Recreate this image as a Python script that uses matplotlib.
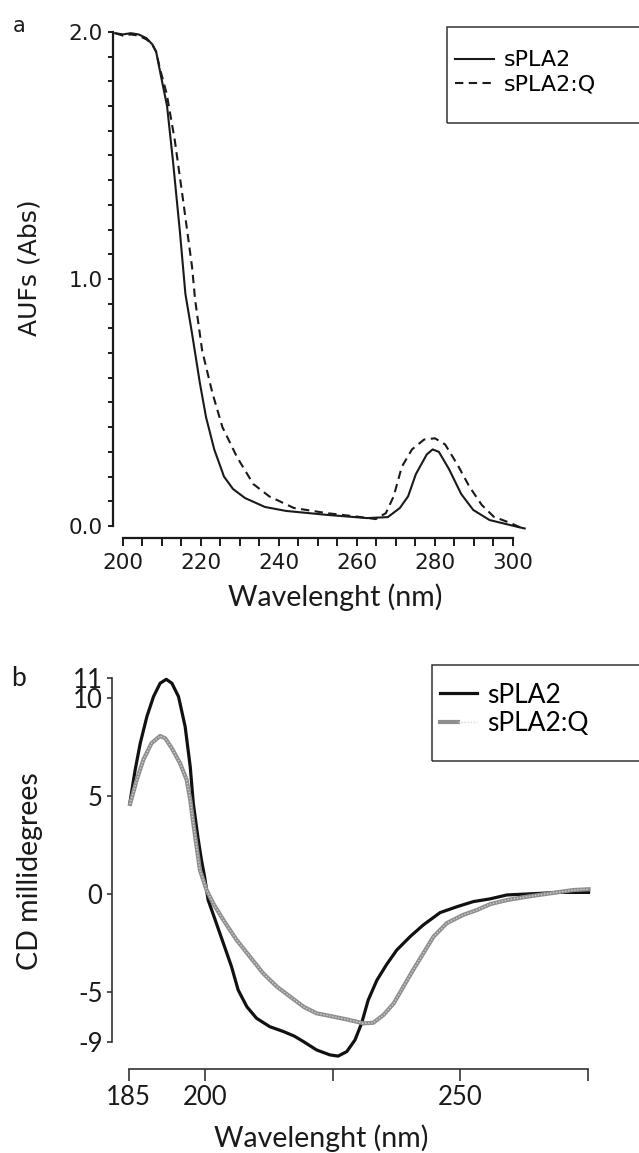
import numpy as np
import matplotlib
matplotlib.use("Agg")
import matplotlib.pyplot as plt
from matplotlib.patches import Rectangle
from matplotlib.ticker import MultipleLocator, FixedLocator, FixedFormatter, FormatStrFormatter
from matplotlib.legend_handler import HandlerTuple

# ---------------------------------------------------------------------------
# Data
# ---------------------------------------------------------------------------

# (a) UV absorbance
uv_wl_spla2 = [198, 200, 202, 204, 206, 207.5, 208.5, 209.5, 211.3, 212.8, 214.6, 216.0,
               217.7, 219.7, 221.3, 223.4, 225.9, 228.2, 231.3, 236.4, 241.8, 252.3,
               262.6, 267.9, 271.0, 273.1, 275.1, 277.9, 279.4, 281.0, 283.6, 286.7,
               289.8, 294.0, 298.2, 301.3, 303.0]
uv_abs_spla2 = [1.995, 1.99, 1.995, 1.99, 1.975, 1.95, 1.92, 1.84, 1.70, 1.48, 1.19, 0.94,
                0.78, 0.58, 0.44, 0.31, 0.20, 0.15, 0.113, 0.077, 0.061, 0.045,
                0.032, 0.036, 0.073, 0.12, 0.21, 0.29, 0.31, 0.30, 0.23, 0.13,
                0.065, 0.024, 0.008, -0.004, -0.01]

uv_wl_q = [198, 200, 202, 204, 206, 207.5, 208.5, 209.5, 211.2, 213.3, 215.4, 217.7,
           218.5, 220.3, 222.9, 225.5, 229.2, 233.4, 237.5, 243.8, 252.3, 260.5,
           264.8, 267.4, 269.4, 271.5, 274.1, 277.2, 280.0, 282.6, 285.7, 288.8,
           292.0, 295.1, 299.2, 302.8]
uv_abs_q = [1.995, 1.985, 1.99, 1.985, 1.97, 1.95, 1.92, 1.85, 1.75, 1.56, 1.32, 1.05,
            0.915, 0.71, 0.54, 0.40, 0.28, 0.17, 0.12, 0.073, 0.052, 0.037,
            0.028, 0.052, 0.12, 0.24, 0.31, 0.35, 0.355, 0.33, 0.25, 0.16,
            0.085, 0.037, 0.013, -0.012]

# (b) circular dichroism
cd_wl_spla2 = [185.3, 186.3, 187.3, 188.6, 189.9, 191.2, 192.4, 193.5, 194.8, 196.1,
               197.1, 197.7, 198.6, 199.3, 199.9, 200.6, 202.0, 203.6, 205.2, 206.5,
               208.2, 210.1, 212.7, 215.4, 217.5, 219.3, 221.9, 224.5, 226.1, 227.8,
               229.4, 230.7, 232.0, 233.7, 235.6, 237.6, 240.2, 242.8, 246.1, 249.4,
               252.6, 255.9, 259.2, 265.7, 269.0, 275.2]
cd_mdeg_spla2 = [4.70, 6.33, 7.69, 9.05, 10.07, 10.75, 10.95, 10.75, 10.07, 8.54,
                 6.49, 4.62, 2.90, 1.73, 0.90, -0.30, -1.33, -2.52, -3.71, -4.90,
                 -5.75, -6.34, -6.77, -7.02, -7.25, -7.53, -7.96, -8.21, -8.27, -8.04,
                 -7.45, -6.60, -5.41, -4.40, -3.60, -2.86, -2.18, -1.58, -0.95, -0.65,
                 -0.39, -0.25, -0.05, 0.03, 0.08, 0.08]

cd_wl_q = [185.3, 186.6, 187.9, 189.5, 191.2, 192.2, 193.5, 195.1, 196.4, 197.1,
           197.7, 199.0, 200.3, 201.6, 203.6, 206.2, 208.8, 211.4, 214.1, 216.7,
           219.3, 221.9, 225.2, 227.8, 231.1, 233.0, 235.0, 237.0, 238.9, 240.8,
           242.8, 244.8, 247.4, 250.6, 253.3, 255.9, 259.2, 263.1, 267.6, 272.2, 275.2]
cd_mdeg_q = [4.59, 5.82, 6.84, 7.69, 8.06, 7.94, 7.43, 6.67, 5.82, 4.80,
             3.60, 1.22, 0.20, -0.48, -1.33, -2.35, -3.20, -4.05, -4.73, -5.24,
             -5.75, -6.09, -6.26, -6.40, -6.60, -6.57, -6.17, -5.58, -4.73, -3.88,
             -3.03, -2.18, -1.49, -1.07, -0.82, -0.52, -0.31, -0.14, 0.03, 0.20, 0.24]

cd_xticks = [185, 200, 225, 250, 275]
cd_xticklabels = ["185", "200", "", "250", ""]
cd_yticks = [11, 10, 5, 0, -5, -7.55]
cd_yticklabels = ["11", "10", "5", "0", "-5", "-9"]

# ---------------------------------------------------------------------------
# Figure (laid out in pixels of a 639 x 1153 canvas)
# ---------------------------------------------------------------------------
W, H = 639, 1153
fig = plt.figure(figsize=(W / 100, H / 100), dpi=100)


def px_axes(left, top, right, bottom):
    return fig.add_axes([left / W, 1 - bottom / H, (right - left) / W, (bottom - top) / H])


def fx(x):
    return x / W


def fy(y):
    return 1 - y / H


INK = "#1a1a1a"
SANS_A = "DejaVu Sans"
SANS_B = "Lato"

# --- panel a ---------------------------------------------------------------
ax_a = px_axes(113, 28, 530, 538)
l1, = ax_a.plot(uv_wl_spla2, uv_abs_spla2, color=INK, lw=1.5, label="sPLA2")
l2, = ax_a.plot(uv_wl_q, uv_abs_q, color=INK, lw=1.5, ls=(0, (4, 2.6)), label="sPLA2:Q")
ax_a.set_xlim(197.44, 304.36)
ax_a.set_ylim(-0.0486, 2.016)
for s in ("top", "right"):
    ax_a.spines[s].set_visible(False)
ax_a.spines["left"].set_bounds(0, 2)
ax_a.spines["bottom"].set_bounds(200, 300)
for s in ("left", "bottom"):
    ax_a.spines[s].set_linewidth(1.6)
    ax_a.spines[s].set_color(INK)
ax_a.xaxis.set_major_locator(MultipleLocator(20))
ax_a.xaxis.set_minor_locator(MultipleLocator(5))
ax_a.yaxis.set_major_locator(MultipleLocator(1))
ax_a.yaxis.set_minor_locator(MultipleLocator(0.1))
ax_a.yaxis.set_major_formatter(FormatStrFormatter("%.1f"))
ax_a.tick_params(axis="x", which="both", length=5.8, width=1.4, color=INK, pad=5)
ax_a.tick_params(axis="y", which="both", length=3.6, width=1.4, color=INK, pad=4)
for t in ax_a.get_xticklabels() + ax_a.get_yticklabels():
    t.set_fontfamily(SANS_A)
    t.set_fontsize(15.5)
    t.set_color(INK)

fig.text(fx(30), fy(268), "AUFs (Abs)", rotation=90, ha="center", va="center",
         family=SANS_A, fontsize=18, color=INK)
fig.text(fx(335), fy(597), "Wavelenght (nm)", ha="center", va="center",
         family=SANS_B, fontsize=20.5, color=INK)
fig.text(fx(19), fy(26), "a", ha="center", va="center", family=SANS_A, fontsize=15, color=INK)

fig.patches.append(Rectangle((fx(447), fy(123)), fx(645 - 447), (123 - 27) / H,
                             transform=fig.transFigure, fill=False, ec="#333333", lw=1.1))
ax_a.legend(handles=[l1, l2], loc="center left", bbox_to_anchor=(fx(455), fy(72.5)),
            bbox_transform=fig.transFigure, frameon=False, borderpad=0, borderaxespad=0,
            handlelength=1.75, handletextpad=0.44, labelspacing=0.2,
            prop={"family": SANS_A, "size": 16})

# --- panel b ---------------------------------------------------------------
ax_b = px_axes(111.7, 665, 600, 1069.3)
b1, = ax_b.plot(cd_wl_spla2, cd_mdeg_spla2, color="#111111", lw=2.3, label="sPLA2")
b2, = ax_b.plot(cd_wl_q, cd_mdeg_q, color="#8e8e8e", lw=3.0)
b3, = ax_b.plot(cd_wl_q, cd_mdeg_q, color="#d2d2d2", lw=1.0, ls=(0, (1, 1.2)))
ax_b.set_xlim(181.7, 277.45)
ax_b.set_ylim(-8.944, 11.68)
for s in ("top", "right"):
    ax_b.spines[s].set_visible(False)
ax_b.spines["left"].set_bounds(-7.55, 11)
ax_b.spines["bottom"].set_bounds(185, 275)
for s in ("left", "bottom"):
    ax_b.spines[s].set_linewidth(1.2)
    ax_b.spines[s].set_color("#333333")
ax_b.xaxis.set_major_locator(FixedLocator(cd_xticks))
ax_b.xaxis.set_major_formatter(FixedFormatter(cd_xticklabels))
ax_b.yaxis.set_major_locator(FixedLocator(cd_yticks))
ax_b.yaxis.set_major_formatter(FixedFormatter(cd_yticklabels))
ax_b.tick_params(axis="x", length=8.6, width=1.2, color="#333333", pad=3)
ax_b.tick_params(axis="y", length=3.6, width=1.2, color="#333333", pad=3)
for t in ax_b.get_xticklabels() + ax_b.get_yticklabels():
    t.set_fontfamily(SANS_B)
    t.set_fontsize(18.5)
    t.set_color(INK)

fig.text(fx(30), fy(871), "CD millidegrees", rotation=90, ha="center", va="center",
         family=SANS_B, fontsize=20.5, color=INK)
fig.text(fx(321), fy(1138), "Wavelenght (nm)", ha="center", va="center",
         family=SANS_B, fontsize=20.5, color=INK)
fig.text(fx(18.5), fy(678), "b", ha="center", va="center", family=SANS_B, fontsize=19, color=INK)

fig.patches.append(Rectangle((fx(432), fy(761)), fx(645 - 432), (761 - 665) / H,
                             transform=fig.transFigure, fill=False, ec="#333333", lw=1.1))
ax_b.legend(handles=[b1, (b2, b3)], labels=["sPLA2", "sPLA2:Q"],
            handler_map={tuple: HandlerTuple(ndivide=None, pad=0)},
            loc="center left", bbox_to_anchor=(fx(440), fy(709.5)),
            bbox_transform=fig.transFigure, frameon=False, borderpad=0, borderaxespad=0,
            handlelength=1.4, handletextpad=0.37, labelspacing=0.15,
            prop={"family": SANS_B, "size": 19})

fig.savefig("out.png", dpi=100)
